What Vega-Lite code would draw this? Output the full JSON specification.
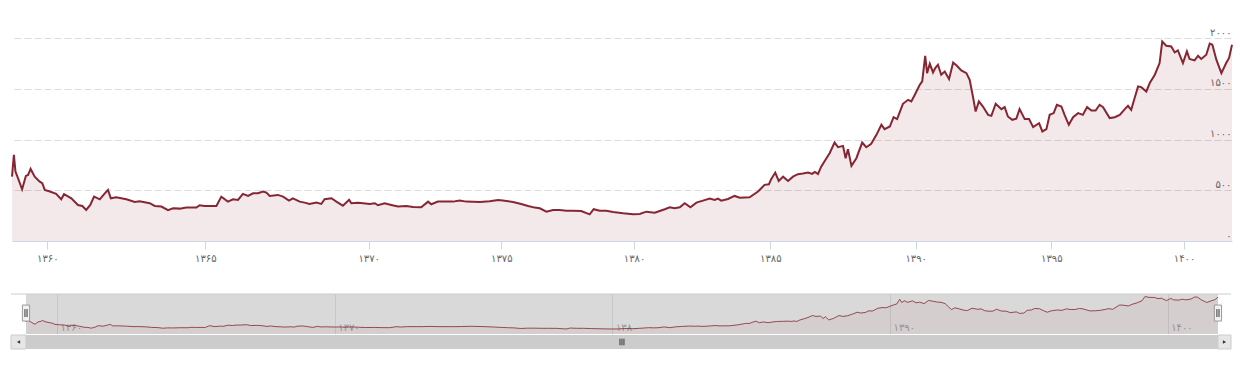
{
  "$schema": "https://vega.github.io/schema/vega-lite/v6.json",
  "background": "white",
  "padding": {"top": 27, "left": 8, "right": 0, "bottom": 0},
  "config": {"view": {"stroke": null}, "font": "DejaVu Sans"},
  "datasets": {
    "s": [
      {"t":1358.88,"v":634},{"t":1358.94,"v":849},{"t":1358.99,"v":684},{"t":1359.07,"v":619},{"t":1359.20,"v":510},{"t":1359.32,"v":641},{"t":1359.39,"v":651},{"t":1359.47,"v":710},{"t":1359.60,"v":634},{"t":1359.76,"v":585},{"t":1359.84,"v":569},{"t":1359.92,"v":503},{"t":1360.08,"v":487},{"t":1360.28,"v":464},{"t":1360.44,"v":411},{"t":1360.53,"v":461},{"t":1360.76,"v":421},{"t":1360.97,"v":355},{"t":1361.11,"v":345},{"t":1361.23,"v":306},{"t":1361.36,"v":355},{"t":1361.48,"v":437},{"t":1361.66,"v":411},{"t":1361.82,"v":470},{"t":1361.92,"v":503},{"t":1362.01,"v":421},{"t":1362.18,"v":431},{"t":1362.50,"v":411},{"t":1362.77,"v":385},{"t":1362.92,"v":391},{"t":1363.24,"v":372},{"t":1363.40,"v":345},{"t":1363.61,"v":339},{"t":1363.82,"v":303},{"t":1363.98,"v":322},{"t":1364.19,"v":319},{"t":1364.40,"v":329},{"t":1364.72,"v":329},{"t":1364.82,"v":352},{"t":1364.98,"v":345},
      {"t":1365.34,"v":345},{"t":1365.49,"v":437},{"t":1365.69,"v":388},{"t":1365.85,"v":411},{"t":1366.00,"v":405},{"t":1366.15,"v":464},{"t":1366.31,"v":444},{"t":1366.46,"v":470},{"t":1366.61,"v":470},{"t":1366.77,"v":487},{"t":1366.87,"v":477},{"t":1366.97,"v":444},{"t":1367.22,"v":454},{"t":1367.38,"v":437},{"t":1367.56,"v":398},{"t":1367.68,"v":421},{"t":1367.89,"v":388},{"t":1368.04,"v":378},{"t":1368.19,"v":365},{"t":1368.40,"v":378},{"t":1368.55,"v":365},{"t":1368.65,"v":411},{"t":1368.86,"v":421},{"t":1369.01,"v":388},{"t":1369.21,"v":348},{"t":1369.40,"v":405},{"t":1369.47,"v":372},{"t":1369.67,"v":378},{"t":1369.83,"v":372},
      {"t":1370.04,"v":365},{"t":1370.23,"v":372},{"t":1370.35,"v":352},{"t":1370.60,"v":372},{"t":1370.85,"v":355},{"t":1371.10,"v":339},{"t":1371.42,"v":345},{"t":1371.67,"v":335},{"t":1371.98,"v":332},{"t":1372.24,"v":388},{"t":1372.36,"v":362},{"t":1372.61,"v":388},{"t":1372.93,"v":388},{"t":1373.18,"v":388},{"t":1373.43,"v":398},{"t":1373.68,"v":388},{"t":1374.19,"v":385},{"t":1374.56,"v":391},{"t":1374.88,"v":405},
      {"t":1375.06,"v":398},{"t":1375.44,"v":385},{"t":1375.75,"v":365},{"t":1376.01,"v":345},{"t":1376.26,"v":329},{"t":1376.45,"v":322},{"t":1376.70,"v":289},{"t":1376.95,"v":306},{"t":1377.20,"v":306},{"t":1377.45,"v":299},{"t":1377.70,"v":299},{"t":1378.01,"v":296},{"t":1378.33,"v":263},{"t":1378.48,"v":313},{"t":1378.71,"v":299},{"t":1378.96,"v":299},{"t":1379.21,"v":286},{"t":1379.59,"v":273},{"t":1379.96,"v":263},
      {"t":1380.21,"v":266},{"t":1380.45,"v":289},{"t":1380.76,"v":279},{"t":1381.13,"v":313},{"t":1381.31,"v":332},{"t":1381.49,"v":322},{"t":1381.68,"v":332},{"t":1381.86,"v":372},{"t":1382.07,"v":332},{"t":1382.29,"v":378},{"t":1382.53,"v":398},{"t":1382.78,"v":418},{"t":1382.96,"v":405},{"t":1383.08,"v":418},{"t":1383.20,"v":398},{"t":1383.45,"v":414},{"t":1383.69,"v":444},{"t":1383.88,"v":427},{"t":1384.24,"v":431},{"t":1384.55,"v":487},{"t":1384.79,"v":553},{"t":1384.95,"v":559},
      {"t":1385.03,"v":609},{"t":1385.17,"v":674},{"t":1385.29,"v":592},{"t":1385.44,"v":634},{"t":1385.61,"v":592},{"t":1385.78,"v":634},{"t":1385.95,"v":658},{"t":1386.12,"v":665},{"t":1386.30,"v":674},{"t":1386.44,"v":661},{"t":1386.53,"v":681},{"t":1386.64,"v":661},{"t":1386.75,"v":733},{"t":1386.93,"v":816},{"t":1387.04,"v":865},{"t":1387.21,"v":970},{"t":1387.33,"v":924},{"t":1387.50,"v":937},{"t":1387.59,"v":816},{"t":1387.67,"v":905},{"t":1387.79,"v":740},{"t":1387.96,"v":816},{"t":1388.16,"v":970},{"t":1388.30,"v":924},{"t":1388.47,"v":957},{"t":1388.65,"v":1046},{"t":1388.82,"v":1145},{"t":1388.93,"v":1102},{"t":1389.11,"v":1128},{"t":1389.24,"v":1220},{"t":1389.36,"v":1201},{"t":1389.56,"v":1352},{"t":1389.74,"v":1391},{"t":1389.85,"v":1375},{"t":1389.97,"v":1441},
      {"t":1390.15,"v":1539},{"t":1390.24,"v":1572},{"t":1390.35,"v":1825},{"t":1390.42,"v":1654},{"t":1390.52,"v":1746},{"t":1390.64,"v":1661},{"t":1390.72,"v":1704},{"t":1390.82,"v":1737},{"t":1390.94,"v":1638},{"t":1391.07,"v":1670},{"t":1391.23,"v":1595},{"t":1391.38,"v":1759},{"t":1391.52,"v":1727},{"t":1391.68,"v":1681},{"t":1391.87,"v":1654},{"t":1391.99,"v":1589},{"t":1392.11,"v":1424},{"t":1392.21,"v":1276},{"t":1392.33,"v":1375},{"t":1392.48,"v":1325},{"t":1392.67,"v":1243},{"t":1392.79,"v":1233},{"t":1392.95,"v":1352},{"t":1393.16,"v":1299},{"t":1393.28,"v":1319},{"t":1393.40,"v":1227},{"t":1393.56,"v":1194},{"t":1393.71,"v":1205},{"t":1393.83,"v":1299},{"t":1394.02,"v":1201},{"t":1394.18,"v":1201},{"t":1394.33,"v":1122},{"t":1394.55,"v":1161},{"t":1394.67,"v":1079},{"t":1394.82,"v":1102},{"t":1394.94,"v":1243},
      {"t":1395.09,"v":1260},{"t":1395.21,"v":1342},{"t":1395.38,"v":1325},{"t":1395.50,"v":1243},{"t":1395.66,"v":1145},{"t":1395.82,"v":1220},{"t":1396.01,"v":1260},{"t":1396.19,"v":1243},{"t":1396.35,"v":1319},{"t":1396.51,"v":1286},{"t":1396.67,"v":1286},{"t":1396.82,"v":1342},{"t":1396.95,"v":1319},{"t":1397.20,"v":1211},{"t":1397.39,"v":1220},{"t":1397.58,"v":1243},{"t":1397.77,"v":1299},{"t":1397.89,"v":1332},{"t":1398.01,"v":1293},{"t":1398.14,"v":1408},{"t":1398.27,"v":1523},{"t":1398.39,"v":1516},{"t":1398.58,"v":1473},{"t":1398.71,"v":1556},{"t":1398.90,"v":1638},{"t":1399.08,"v":1753},{"t":1399.18,"v":1966},{"t":1399.33,"v":1924},{"t":1399.52,"v":1917},{"t":1399.65,"v":1858},{"t":1399.77,"v":1878},{"t":1399.96,"v":1753},
      {"t":1400.11,"v":1868},{"t":1400.21,"v":1793},{"t":1400.40,"v":1779},{"t":1400.53,"v":1825},{"t":1400.65,"v":1793},{"t":1400.84,"v":1835},{"t":1400.97,"v":1944},{"t":1401.07,"v":1934},{"t":1401.22,"v":1786},{"t":1401.41,"v":1654},{"t":1401.59,"v":1753},{"t":1401.70,"v":1803},{"t":1401.81,"v":1934}
    ]
  },
  "vconcat": [
    {
      "width": 1221,
      "height": 203,
      "data": {"name": "s"},
      "encoding": {
        "x": {
          "field": "t", "type": "quantitative",
          "scale": {"domain": [1358.88, 1360, 1365, 1370, 1375, 1380, 1385, 1390, 1395, 1400, 1401.81], "range": [1, 36.3, 194.3, 357.7, 490.3, 623, 759.3, 904.7, 1040.3, 1173, 1221]},
          "axis": {
            "title": null, "values": [1360, 1365, 1370, 1375, 1380, 1385, 1390, 1395, 1400], "format": "d",
            "labelExpr": "replace(replace(replace(replace(replace(replace(replace(replace(replace(replace(datum.label,regexp('0','g'),'۰'),regexp('1','g'),'۱'),regexp('2','g'),'۲'),regexp('3','g'),'۳'),regexp('4','g'),'۴'),regexp('5','g'),'۵'),regexp('6','g'),'۶'),regexp('7','g'),'۷'),regexp('8','g'),'۸'),regexp('9','g'),'۹')",
            "domainColor": "#ccd6eb", "tickColor": "#ccd6eb", "tickSize": 8, "labelPadding": 4,
            "labelColor": "#666666", "labelFontSize": 10, "labelFlush": false, "grid": false
          }
        },
        "y": {
          "field": "v", "type": "quantitative",
          "scale": {"domain": [0, 2000], "nice": false},
          "axis": {
            "title": null, "orient": "right", "values": [0, 500, 1000, 1500, 2000], "format": "d",
            "labelExpr": "replace(replace(replace(replace(replace(replace(replace(replace(replace(replace(datum.label,regexp('0','g'),'۰'),regexp('1','g'),'۱'),regexp('2','g'),'۲'),regexp('3','g'),'۳'),regexp('4','g'),'۴'),regexp('5','g'),'۵'),regexp('6','g'),'۶'),regexp('7','g'),'۷'),regexp('8','g'),'۸'),regexp('9','g'),'۹')",
            "domain": false, "ticks": false, "grid": true, "gridColor": "#dcdcdc", "gridDash": [7, 3],
            "labelAlign": "right", "labelPadding": -1, "labelBaseline": "alphabetic", "labelOffset": -3,
            "labelColor": "#666666", "labelFontSize": 10
          }
        }
      },
      "layer": [
        {"mark": {"type": "area", "color": "#862633", "opacity": 0.1}},
        {"mark": {"type": "line", "color": "#862633", "strokeWidth": 2}}
      ]
    },
    {
      "spacing": 0,
      "vconcat": [
        {
          "width": 1220,
          "height": 40,
          "layer": [
            {
              "data": {"values": [{"a": 1358.88, "b": 1401.81}]},
              "mark": {"type": "rect", "fill": "#999999", "opacity": 0.37},
              "encoding": {
                "x": {"field": "a", "type": "quantitative",
                  "scale": {"domain": [1358.34, 1402.28], "nice": false, "zero": false},
                  "axis": {
                    "title": null, "values": [1360, 1370, 1380, 1390, 1400], "format": "d",
                    "labelExpr": "replace(replace(replace(replace(replace(replace(replace(replace(replace(replace(datum.label,regexp('0','g'),'۰'),regexp('1','g'),'۱'),regexp('2','g'),'۲'),regexp('3','g'),'۳'),regexp('4','g'),'۴'),regexp('5','g'),'۵'),regexp('6','g'),'۶'),regexp('7','g'),'۷'),regexp('8','g'),'۸'),regexp('9','g'),'۹')",
                    "domain": false, "ticks": false, "grid": true, "gridColor": "#e2e2e2",
                    "labelAlign": "left", "labelBaseline": "alphabetic", "labelPadding": -4, "labelOffset": 3,
                    "labelColor": "#999999", "labelFontSize": 10, "labelFlush": false
                  }},
                "x2": {"field": "b"},
                "y": {"datum": 0, "type": "quantitative", "scale": {"domain": [0, 2100], "nice": false}, "axis": null},
                "y2": {"datum": 2100}
              }
            },
            {
              "data": {"name": "s"},
              "mark": {"type": "area", "color": "#862633", "opacity": 0.06},
              "encoding": {"x": {"field": "t", "type": "quantitative"}, "y": {"field": "v", "type": "quantitative"}}
            },
            {
              "data": {"name": "s"},
              "mark": {"type": "line", "color": "#862633", "strokeWidth": 1, "opacity": 0.8},
              "encoding": {"x": {"field": "t", "type": "quantitative"}, "y": {"field": "v", "type": "quantitative"}}
            },
            {
              "data": {"values": [{"a": 1358.34, "b": 1402.28}]},
              "mark": {"type": "rule", "color": "#cccccc", "strokeWidth": 1},
              "encoding": {"x": {"field": "a", "type": "quantitative"}, "x2": {"field": "b"}, "y": {"datum": 2100}}
            },
            {
              "data": {"values": [{"a": 1358.88}, {"a": 1401.81}]},
              "mark": {"type": "point", "shape": "M-0.45,-1H0.45V1H-0.45Z", "size": 256, "filled": true, "fill": "#f2f2f2", "stroke": "#999999", "strokeWidth": 1, "opacity": 1},
              "encoding": {"x": {"field": "a", "type": "quantitative"}, "y": {"datum": 1100}}
            },
            {
              "data": {"values": [{"a": 1358.88}, {"a": 1401.81}]},
              "mark": {"type": "point", "shape": "M-0.13,-0.5V0.5M0.13,-0.5V0.5", "size": 256, "filled": false, "stroke": "#333333", "strokeWidth": 1, "opacity": 1},
              "encoding": {"x": {"field": "a", "type": "quantitative"}, "y": {"datum": 1100}}
            }
          ]
        },
        {
          "width": 1220,
          "height": 14,
          "layer": [
            {
              "data": {"values": [{"a": 1358.34, "b": 1402.28}]},
              "mark": {"type": "rect", "fill": "#f2f2f2"},
              "encoding": {
                "x": {"field": "a", "type": "quantitative", "scale": {"domain": [1358.34, 1402.28], "nice": false, "zero": false}, "axis": null},
                "x2": {"field": "b"},
                "y": {"datum": 0, "type": "quantitative", "scale": {"domain": [0, 1], "nice": false}, "axis": null},
                "y2": {"datum": 1}
              }
            },
            {
              "data": {"values": [{"a": 1358.88, "b": 1401.81}]},
              "mark": {"type": "rect", "fill": "#cccccc"},
              "encoding": {"x": {"field": "a", "type": "quantitative"}, "x2": {"field": "b"}, "y": {"datum": 0}, "y2": {"datum": 1}}
            },
            {
              "data": {"values": [{"a": 1358.34, "b": 1358.88}, {"a": 1401.81, "b": 1402.28}]},
              "mark": {"type": "rect", "fill": "#e6e6e6", "stroke": "#cccccc", "strokeWidth": 1},
              "encoding": {"x": {"field": "a", "type": "quantitative"}, "x2": {"field": "b"}, "y": {"datum": 0}, "y2": {"datum": 1}}
            },
            {
              "data": {"values": [{"a": 1358.61, "s": "triangle-left"}, {"a": 1402.045, "s": "triangle-right"}]},
              "mark": {"type": "point", "filled": true, "fill": "#333333", "size": 14, "opacity": 1},
              "encoding": {"x": {"field": "a", "type": "quantitative"}, "y": {"datum": 0.5}, "shape": {"field": "s", "type": "nominal", "scale": null, "legend": null}}
            },
            {
              "data": {"values": [{"a": 1380.345}]},
              "mark": {"type": "point", "shape": "M-0.33,-0.55V0.55M0,-0.55V0.55M0.33,-0.55V0.55", "size": 144, "filled": false, "stroke": "#333333", "strokeWidth": 1, "opacity": 1},
              "encoding": {"x": {"field": "a", "type": "quantitative"}, "y": {"datum": 0.5}}
            }
          ]
        }
      ]
    }
  ],
  "spacing": 30
}
